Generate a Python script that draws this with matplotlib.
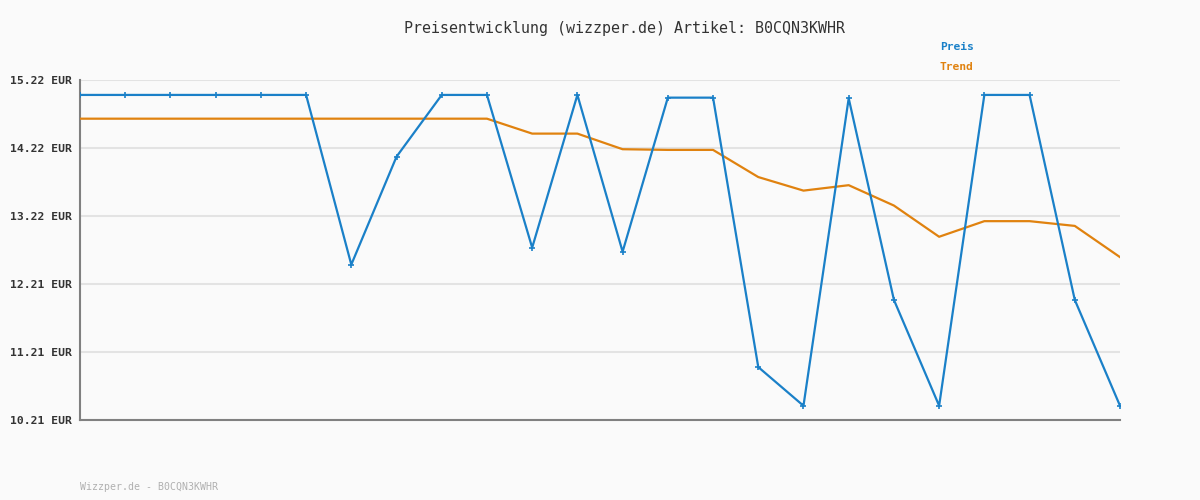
import numpy as np
import matplotlib.pyplot as plt

preis = [15.00, 15.00, 15.00, 15.00, 15.00, 15.00, 12.50, 14.09, 15.00, 15.00,
         12.75, 15.00, 12.69, 14.96, 14.96, 10.99, 10.42, 14.95, 11.98, 10.42,
         15.00, 15.00, 11.98, 10.42]
trend = [14.65, 14.65, 14.65, 14.65, 14.65, 14.65, 14.65, 14.65, 14.65, 14.65,
         14.43, 14.43, 14.20, 14.19, 14.19, 13.79, 13.59, 13.67, 13.37, 12.91,
         13.14, 13.14, 13.07, 12.61]
tick_labels = ["10.21 EUR", "11.21 EUR", "12.21 EUR", "13.22 EUR", "14.22 EUR", "15.22 EUR"]
title = "Preisentwicklung (wizzper.de) Artikel: B0CQN3KWHR"
footer = "Wizzper.de - B0CQN3KWHR"

blue = "#1a80c8"
orange = "#e0820f"
mono = "DejaVu Sans Mono"

fig = plt.figure(figsize=(12, 5), dpi=100, facecolor="#fafafa")
ax = fig.add_axes([80 / 1200, 80 / 500, 1040 / 1200, 340 / 500])
ax.set_facecolor("#fafafa")

x = np.arange(len(preis))
ax.plot(x, trend, color=orange, lw=1.6, zorder=3)
ax.plot(x, preis, color=blue, lw=1.6, marker="+", ms=4, mew=1.2, zorder=4)

ax.set_xlim(0, len(preis) - 1)
ax.set_ylim(10.21, 15.22)
yt = np.linspace(10.21, 15.22, len(tick_labels))
ax.set_yticks(yt)
ax.set_yticklabels(tick_labels, family=mono, fontsize=8.2, fontweight="bold", color="#333333")
ax.set_xticks([])
ax.tick_params(axis="y", length=0, pad=5.5)
ax.grid(axis="y", color="#e3e3e3", lw=1.5)
ax.set_axisbelow(True)

for s in ["top", "right"]:
    ax.spines[s].set_visible(False)
for s in ["left", "bottom"]:
    ax.spines[s].set_color("#808080")
    ax.spines[s].set_linewidth(1.5)

fig.text(624 / 1200, 1 - 28 / 500, title, ha="center", va="center", family=mono,
         fontsize=10.8, color="#333333")
fig.text(940 / 1200, 1 - 47 / 500, "Preis", ha="left", va="center", family=mono,
         fontsize=8.1, fontweight="bold", color=blue)
fig.text(940 / 1200, 1 - 67 / 500, "Trend", ha="left", va="center", family=mono,
         fontsize=8.1, fontweight="bold", color=orange)
fig.text(80 / 1200, 1 - 487 / 500, footer, ha="left", va="center", family=mono,
         fontsize=7.1, color="#b0b0b0")

fig.savefig("out.png", dpi=100, facecolor=fig.get_facecolor())
